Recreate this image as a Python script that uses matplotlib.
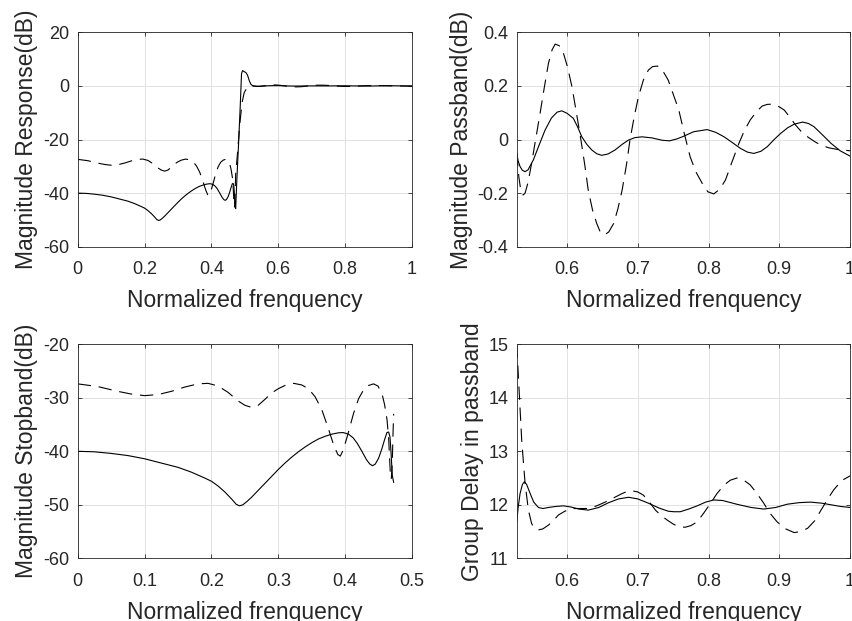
import numpy as np
import matplotlib
matplotlib.use('Agg')
import matplotlib.pyplot as plt
from matplotlib.ticker import FuncFormatter

plt.rcParams['font.family'] = ['Liberation Sans', 'DejaVu Sans']
plt.rcParams['axes.unicode_minus'] = False

# stopband magnitude (dB), solid and dashed designs
stop_f_solid = [0, 0.025, 0.05, 0.075, 0.1, 0.125, 0.15, 0.17, 0.19, 0.2, 0.21, 0.22,
                0.23, 0.237, 0.242, 0.247, 0.253, 0.26, 0.27, 0.28, 0.29, 0.30, 0.31,
                0.32, 0.33, 0.34, 0.35, 0.36, 0.37, 0.38, 0.39, 0.397, 0.405, 0.412,
                0.418, 0.425, 0.432, 0.437, 0.441, 0.445, 0.45, 0.455, 0.459, 0.4625,
                0.465, 0.467, 0.4685, 0.4705, 0.4725]
stop_db_solid = [-40.0, -40.1, -40.4, -40.8, -41.4, -42.2, -43.0, -43.9, -45.0, -45.6,
                 -46.5, -47.6, -48.9, -49.9, -50.2, -50.0, -49.4, -48.6, -47.3, -46.0,
                 -44.7, -43.4, -42.2, -41.1, -40.1, -39.2, -38.4, -37.7, -37.2, -36.8,
                 -36.55, -36.5, -36.8, -37.5, -38.5, -40.0, -41.6, -42.4, -42.7, -42.4,
                 -41.3, -39.5, -37.8, -36.5, -36.4, -37.3, -40.0, -44.5, -45.8]

stop_f_dash = [0, 0.03, 0.06, 0.08, 0.1, 0.12, 0.14, 0.16, 0.18, 0.195, 0.21, 0.225,
               0.24, 0.25, 0.26, 0.27, 0.28, 0.29, 0.30, 0.31, 0.323, 0.335, 0.345,
               0.355, 0.365, 0.375, 0.383, 0.389, 0.3927, 0.397, 0.403, 0.408, 0.4126,
               0.42, 0.4276, 0.435, 0.4425, 0.449, 0.455, 0.459, 0.4626, 0.465, 0.4675,
               0.469, 0.4705, 0.4715, 0.4725]
stop_db_dash = [-27.4, -27.9, -28.8, -29.3, -29.6, -29.4, -28.8, -28.0, -27.4, -27.3,
                -27.8, -29.0, -30.6, -31.4, -31.8, -31.4, -30.3, -29.1, -28.3, -27.7,
                -27.3, -27.6, -28.3, -29.8, -32.2, -35.8, -38.9, -40.6, -40.9, -39.8,
                -37.3, -35.0, -32.9, -30.2, -28.5, -27.7, -27.4, -27.8, -29.2, -31.3,
                -34.1, -37.5, -44.0, -45.2, -42.0, -37.0, -33.0]

# transition band (only in the full response)
trans_f_solid = [0.476, 0.481, 0.486, 0.490, 0.493, 0.498, 0.503, 0.508, 0.513, 0.518, 0.524]
trans_db_solid = [-35.0, -22.0, -8.0, 4.5, 5.7, 5.3, 5.0, 4.0, 2.0, 0.6, 0.0]
trans_f_dash = [0.478, 0.485, 0.492, 0.498, 0.505, 0.512, 0.520]
trans_db_dash = [-25.0, -14.0, -6.0, -2.5, -1.0, -0.3, 0.0]

# passband magnitude (dB)
pass_f_solid = [0.529, 0.531, 0.5337, 0.537, 0.5408, 0.545, 0.5525, 0.56, 0.569, 0.578,
                0.586, 0.5927, 0.600, 0.609, 0.615, 0.621, 0.628, 0.635, 0.642, 0.649,
                0.658, 0.668, 0.678, 0.687, 0.696, 0.706, 0.72, 0.735, 0.745, 0.755,
                0.763, 0.779, 0.798, 0.81, 0.822, 0.834, 0.845, 0.855, 0.864, 0.874,
                0.883, 0.892, 0.902, 0.912, 0.921, 0.933, 0.941, 0.949, 0.960, 0.973,
                0.986, 1.0]
pass_db_solid = [-0.051, -0.08, -0.101, -0.115, -0.120, -0.113, -0.076, -0.025, 0.035,
                 0.080, 0.102, 0.107, 0.098, 0.079, 0.047, 0.010, -0.018, -0.039, -0.053,
                 -0.059, -0.054, -0.039, -0.018, -0.002, 0.007, 0.010, 0.006, -0.003,
                 -0.005, 0.002, 0.010, 0.029, 0.037, 0.027, 0.010, -0.012, -0.033,
                 -0.047, -0.052, -0.044, -0.027, -0.002, 0.023, 0.044, 0.057, 0.065,
                 0.060, 0.048, 0.020, -0.014, -0.042, -0.062]

pass_f_dash = [0.529, 0.532, 0.535, 0.538, 0.5408, 0.545, 0.55, 0.556, 0.562, 0.568,
               0.5738, 0.579, 0.5833, 0.589, 0.595, 0.601, 0.607, 0.613, 0.619, 0.625,
               0.630, 0.636, 0.642, 0.647, 0.653, 0.659, 0.666, 0.672, 0.678, 0.684,
               0.689, 0.695, 0.701, 0.708, 0.715, 0.721, 0.728, 0.735, 0.743, 0.750,
               0.758, 0.766, 0.774, 0.782, 0.791, 0.799, 0.8075, 0.816, 0.824, 0.833,
               0.843, 0.851, 0.859, 0.868, 0.876, 0.883, 0.890, 0.898, 0.907, 0.915,
               0.923, 0.931, 0.940, 0.950, 0.959, 0.970, 0.982, 1.0]
pass_db_dash = [-0.05, -0.14, -0.195, -0.207, -0.200, -0.16, -0.089, 0.005, 0.098, 0.195,
                0.284, 0.335, 0.356, 0.350, 0.322, 0.268, 0.197, 0.105, 0.010, -0.092,
                -0.188, -0.262, -0.313, -0.345, -0.356, -0.345, -0.313, -0.258, -0.188,
                -0.095, -0.002, 0.085, 0.160, 0.222, 0.259, 0.272, 0.274, 0.258, 0.222,
                0.170, 0.110, 0.020, -0.064, -0.120, -0.163, -0.195, -0.203, -0.185,
                -0.151, -0.085, -0.014, 0.035, 0.073, 0.105, 0.125, 0.131, 0.132, 0.125,
                0.110, 0.083, 0.054, 0.030, 0.010, -0.008, -0.021, -0.031, -0.037, -0.042]

# group delay in passband (samples)
gd_f_solid = [0.529, 0.531, 0.5337, 0.537, 0.5398, 0.543, 0.548, 0.553, 0.5596, 0.566,
              0.5738, 0.585, 0.595, 0.605, 0.617, 0.630, 0.645, 0.659, 0.673, 0.687,
              0.700, 0.715, 0.730, 0.743, 0.751, 0.760, 0.772, 0.784, 0.796, 0.8075,
              0.820, 0.840, 0.860, 0.878, 0.895, 0.911, 0.928, 0.944, 0.960, 0.973,
              0.986, 1.0]
gd_solid = [11.68, 11.95, 12.21, 12.38, 12.43, 12.38, 12.21, 12.05, 11.95, 11.93, 11.95,
            11.97, 11.98, 11.96, 11.92, 11.90, 11.95, 12.04, 12.11, 12.14, 12.11, 12.03,
            11.94, 11.88, 11.87, 11.87, 11.92, 11.98, 12.05, 12.09, 12.08, 12.01, 11.95,
            11.92, 11.95, 12.01, 12.04, 12.05, 12.03, 12.0, 11.97, 11.95]

gd_f_dash = [0.529, 0.5323, 0.536, 0.5408, 0.5455, 0.55, 0.554, 0.5596, 0.566, 0.5738,
             0.581, 0.588, 0.597, 0.607, 0.618, 0.630, 0.642, 0.654, 0.666, 0.678, 0.685,
             0.692, 0.700, 0.708, 0.716, 0.725, 0.733, 0.741, 0.750, 0.758, 0.767, 0.775,
             0.784, 0.793, 0.803, 0.812, 0.822, 0.831, 0.840, 0.850, 0.859, 0.868, 0.878,
             0.887, 0.897, 0.909, 0.921, 0.930, 0.940, 0.950, 0.959, 0.968, 0.977, 0.988,
             1.0]
gd_dash = [15.0, 14.15, 13.21, 12.40, 11.90, 11.65, 11.56, 11.53, 11.55, 11.62, 11.71,
           11.81, 11.88, 11.93, 11.93, 11.93, 11.98, 12.05, 12.13, 12.21, 12.25, 12.26,
           12.24, 12.18, 12.06, 11.90, 11.80, 11.72, 11.64, 11.59, 11.58, 11.61, 11.68,
           11.84, 12.03, 12.21, 12.37, 12.46, 12.50, 12.46, 12.37, 12.22, 12.03, 11.84,
           11.68, 11.55, 11.48, 11.50, 11.56, 11.70, 11.90, 12.10, 12.28, 12.45, 12.54]

full_f_solid = stop_f_solid + trans_f_solid + pass_f_solid
full_db_solid = stop_db_solid + trans_db_solid + pass_db_solid
full_f_dash = stop_f_dash + trans_f_dash + pass_f_dash
full_db_dash = stop_db_dash + trans_db_dash + pass_db_dash

dark = '#262626'
lw = 0.8
dash = (12, 7)


def fmt(v, pos):
    return '%g' % round(v, 6)


def setup(ax, xlim, ylim, xticks, yticks, ylabel):
    ax.set_xlim(xlim)
    ax.set_ylim(ylim)
    ax.set_xticks(xticks)
    ax.set_yticks(yticks)
    ax.xaxis.set_major_formatter(FuncFormatter(fmt))
    ax.yaxis.set_major_formatter(FuncFormatter(fmt))
    ax.grid(True, color='#e2e2e2', linewidth=0.7)
    ax.set_axisbelow(True)
    ax.tick_params(direction='in', length=3, width=0.6, top=True, right=True,
                   labelsize=13, colors=dark)
    ax.tick_params(axis='x', pad=10.5)
    ax.tick_params(axis='y', pad=6)
    for s in ax.spines.values():
        s.set_color(dark)
        s.set_linewidth(0.6)
    ax.set_xlabel('Normalized frenquency', fontsize=16.5, color=dark, labelpad=8)
    ax.set_ylabel(ylabel, fontsize=16.5, color=dark, labelpad=3.5)


fig = plt.figure(figsize=(8.52, 6.21), dpi=100)
ax1 = fig.add_axes([0.0912, 0.6027, 0.3924, 0.3453])
ax2 = fig.add_axes([0.6065, 0.6027, 0.3912, 0.3453])
ax3 = fig.add_axes([0.0912, 0.1010, 0.3924, 0.3446])
ax4 = fig.add_axes([0.6065, 0.1010, 0.3912, 0.3446])

ax1.plot(full_f_solid, full_db_solid, color='k', lw=lw)
ax1.plot(full_f_dash, full_db_dash, color='k', lw=lw, dashes=dash)
setup(ax1, (0, 1), (-60, 20), [0, 0.2, 0.4, 0.6, 0.8, 1], [-60, -40, -20, 0, 20],
      'Magnitude Response(dB)')

ax2.plot(pass_f_solid, pass_db_solid, color='k', lw=lw)
ax2.plot(pass_f_dash, pass_db_dash, color='k', lw=lw, dashes=dash)
setup(ax2, (0.529, 1), (-0.4, 0.4), [0.6, 0.7, 0.8, 0.9, 1],
      [-0.4, -0.2, 0, 0.2, 0.4], 'Magnitude Passband(dB)')

ax3.plot(stop_f_solid, stop_db_solid, color='k', lw=lw)
ax3.plot(stop_f_dash, stop_db_dash, color='k', lw=lw, dashes=dash)
setup(ax3, (0, 0.5), (-60, -20), [0, 0.1, 0.2, 0.3, 0.4, 0.5],
      [-60, -50, -40, -30, -20], 'Magnitude Stopband(dB)')

ax4.plot(gd_f_solid, gd_solid, color='k', lw=lw)
ax4.plot(gd_f_dash, gd_dash, color='k', lw=lw, dashes=dash)
setup(ax4, (0.529, 1), (11, 15), [0.6, 0.7, 0.8, 0.9, 1], [11, 12, 13, 14, 15],
      'Group Delay in passband')

fig.savefig('out.png', dpi=100)
